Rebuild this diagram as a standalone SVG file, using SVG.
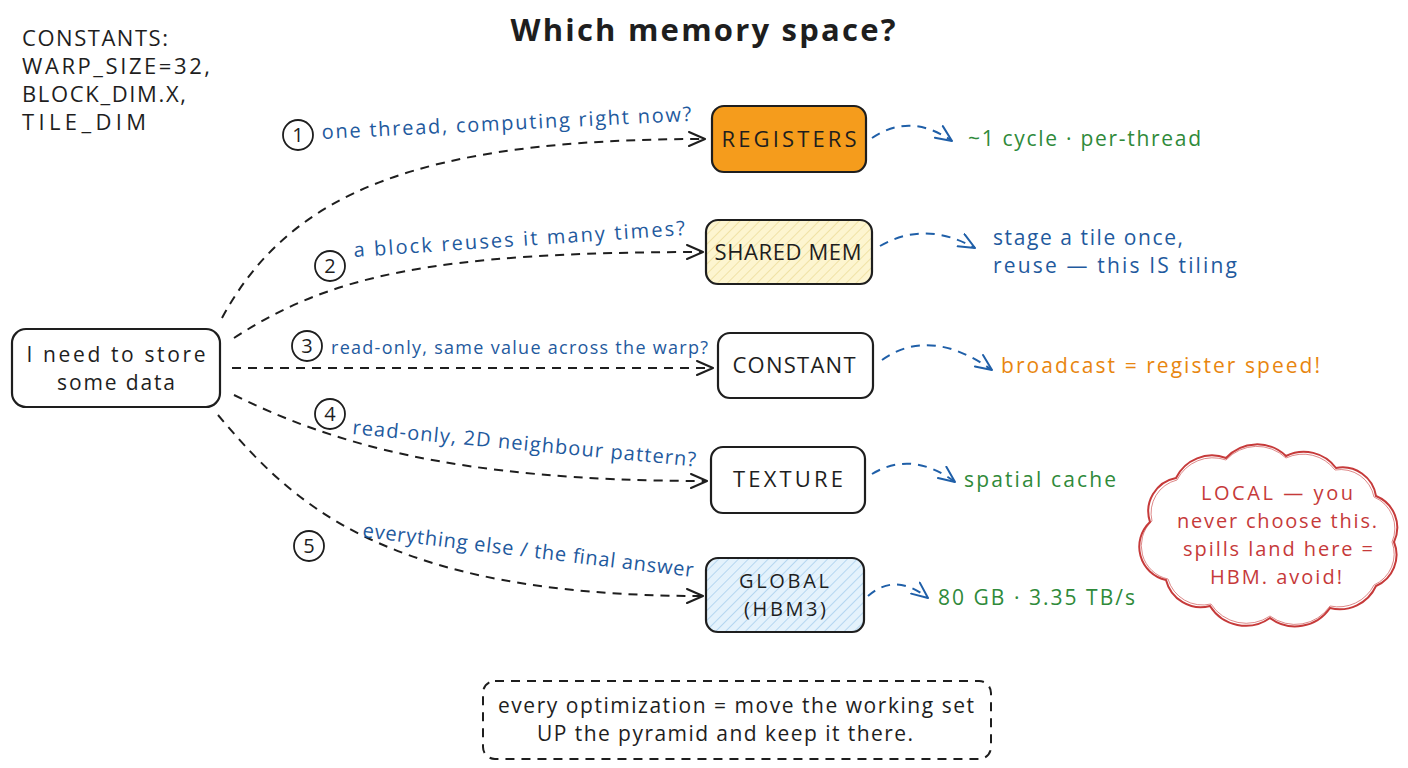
<svg xmlns="http://www.w3.org/2000/svg" width="1408" height="768" viewBox="0 0 1408 768">
<style>
text{font-family:"Open Sans","Liberation Sans",sans-serif;}
.t{font-size:21px;fill:#1e1e1e;}
.u{font-size:22px;fill:#1e1e1e;}
.node{stroke:#1e1e1e;stroke-width:2.2;}
.lbl{font-size:20px;fill:#1f5a9e;}
.num{font-size:20px;fill:#1e1e1e;text-anchor:middle;}
.circ{fill:none;stroke:#1e1e1e;stroke-width:1.8;}
.conn{fill:none;stroke:#1e1e1e;stroke-width:2;stroke-dasharray:9 7;}
.side{fill:none;stroke:#1f5fa8;stroke-width:2;stroke-dasharray:9 7;}
.green{font-size:21px;fill:#2f8a3a;}
.mid{text-anchor:middle;}
</style>
<defs>
<marker id="ah" markerUnits="userSpaceOnUse" markerWidth="22" markerHeight="18" refX="17" refY="8" orient="auto">
<path d="M1,1 L17,8 L1,15" fill="none" stroke="#1e1e1e" stroke-width="2" stroke-linecap="round" stroke-linejoin="round"/>
</marker>
<marker id="ahb" markerUnits="userSpaceOnUse" markerWidth="22" markerHeight="18" refX="17" refY="8" orient="auto">
<path d="M1,1 L17,8 L1,15" fill="none" stroke="#1f5fa8" stroke-width="2" stroke-linecap="round" stroke-linejoin="round"/>
</marker>
<pattern id="hy" patternUnits="userSpaceOnUse" width="7" height="7" patternTransform="rotate(45)">
<rect width="7" height="7" fill="#fdf5d0"/>
<line x1="0" y1="0" x2="0" y2="7" stroke="#e9d98f" stroke-width="1.3"/>
</pattern>
<pattern id="hb" patternUnits="userSpaceOnUse" width="7" height="7" patternTransform="rotate(45)">
<rect width="7" height="7" fill="#e4f2fc"/>
<line x1="0" y1="0" x2="0" y2="7" stroke="#9cc8ea" stroke-width="1.3"/>
</pattern>
</defs>
<rect width="1408" height="768" fill="#ffffff"/>

<text x="703" y="41" class="mid" style="font-size:31px;font-weight:bold;fill:#1e1e1e" textLength="385">Which memory space?</text>

<g id="constants">
<text x="22" y="46" class="u" textLength="146">CONSTANTS:</text>
<text x="22" y="74" class="u" textLength="188">WARP_SIZE=32,</text>
<text x="22" y="102" class="u" textLength="164">BLOCK_DIM.X,</text>
<text x="22" y="130" class="u" textLength="124">TILE_DIM</text>
</g>

<g id="connectors">
<path class="conn" d="M222,318 C290,192 420,139 705,139" marker-end="url(#ah)"/>
<path class="conn" d="M234,338 C330,276 430,252 703,252" marker-end="url(#ah)"/>
<path class="conn" d="M232,368 L713,368" marker-end="url(#ah)"/>
<path class="conn" d="M234,395 C330,442 450,481 707,481" marker-end="url(#ah)"/>
<path class="conn" d="M218,415 C290,500 380,596 703,596" marker-end="url(#ah)"/>
<path class="side" d="M872,138 Q910,112 952,141" marker-end="url(#ahb)"/>
<path class="side" d="M880,246 Q925,220 975,248" marker-end="url(#ahb)"/>
<path class="side" d="M882,360 Q930,326 992,370" marker-end="url(#ahb)"/>
<path class="side" d="M872,474 Q912,450 955,482" marker-end="url(#ahb)"/>
<path class="side" d="M868,596 Q895,572 928,598" marker-end="url(#ahb)"/>
</g>

<g id="start">
<rect class="node" x="12" y="329" width="208" height="78" rx="14" fill="#ffffff"/>
<text x="116" y="362" class="t mid" textLength="179">I need to store</text>
<text x="116" y="390" class="t mid" textLength="118">some data</text>
</g>

<g id="registers">
<rect class="node" x="712" y="106" width="154" height="66" rx="12" fill="#f59c1c"/>
<text x="789" y="147" class="u mid" textLength="135">REGISTERS</text>
</g>
<g id="shared">
<rect class="node" x="706" y="220" width="166" height="64" rx="12" fill="url(#hy)"/>
<text x="788" y="260" class="u mid" textLength="147">SHARED MEM</text>
</g>
<g id="constant">
<rect class="node" x="718" y="333" width="155" height="65" rx="12" fill="#ffffff"/>
<text x="794" y="373" class="u mid" textLength="123">CONSTANT</text>
</g>
<g id="texture">
<rect class="node" x="711" y="447" width="154" height="66" rx="12" fill="#ffffff"/>
<text x="788" y="487" class="u mid" textLength="110">TEXTURE</text>
</g>
<g id="global">
<rect class="node" x="706" y="558" width="158" height="74" rx="12" fill="url(#hb)"/>
<text x="784" y="588" class="mid" style="font-size:20px;fill:#1e1e1e" textLength="90">GLOBAL</text>
<text x="785" y="616" class="mid" style="font-size:20px;fill:#1e1e1e" textLength="82">(HBM3)</text>
</g>

<g id="labels">
<circle class="circ" cx="298" cy="135" r="15"/><text x="298" y="142" class="num">1</text>
<text class="lbl" x="322" y="139" transform="rotate(-2.8 322 139)" textLength="370">one thread, computing right now?</text>
<circle class="circ" cx="330" cy="266" r="15"/><text x="330" y="273" class="num">2</text>
<text class="lbl" x="354" y="257" transform="rotate(-3.8 354 257)" textLength="332">a block reuses it many times?</text>
<circle class="circ" cx="307" cy="346" r="15"/><text x="307" y="353" class="num">3</text>
<text class="lbl" x="331" y="354" style="font-size:18px" textLength="377">read-only, same value across the warp?</text>
<circle class="circ" cx="330" cy="414" r="15"/><text x="330" y="421" class="num">4</text>
<text class="lbl" x="352" y="434" transform="rotate(5.4 352 434)" textLength="345">read-only, 2D neighbour pattern?</text>
<circle class="circ" cx="309" cy="546" r="15"/><text x="309" y="553" class="num">5</text>
<text class="lbl" x="362" y="537" transform="rotate(6.9 362 537)" textLength="333">everything else / the final answer</text>
</g>

<g id="notes">
<text x="968" y="146" class="green" textLength="233">~1 cycle · per-thread</text>
<text x="993" y="245" class="lbl" style="font-size:21px" textLength="190">stage a tile once,</text>
<text x="993" y="273" class="lbl" style="font-size:21px" textLength="244">reuse — this IS tiling</text>
<text x="1001" y="373" style="font-size:21px;fill:#e8860f" textLength="319">broadcast = register speed!</text>
<text x="964" y="487" class="green" textLength="152">spatial cache</text>
<text x="938" y="605" class="green" textLength="197">80 GB · 3.35 TB/s</text>
</g>

<g id="local-cloud">
<path d="M1150,522 A34,34 0 0 1 1176,478 A40,40 0 0 1 1226,458 A42,42 0 0 1 1286,456 A40,40 0 0 1 1336,468 A34,34 0 0 1 1376,496 A34,34 0 0 1 1394,542 A34,34 0 0 1 1376,586 A40,40 0 0 1 1330,608 A42,42 0 0 1 1270,618 A42,42 0 0 1 1210,606 A36,36 0 0 1 1166,580 A34,34 0 0 1 1150,522 Z" fill="#ffffff" stroke="#c63a3a" stroke-width="2"/>
<path d="M1152,521 A34,34 0 0 1 1177,480 A40,40 0 0 1 1226,460 A42,42 0 0 1 1286,458 A40,40 0 0 1 1335,470 A34,34 0 0 1 1374,497 A34,34 0 0 1 1392,542 A34,34 0 0 1 1374,585 A40,40 0 0 1 1330,606 A42,42 0 0 1 1270,616 A42,42 0 0 1 1211,604 A36,36 0 0 1 1168,579 A34,34 0 0 1 1152,521 Z" fill="none" stroke="#c63a3a" stroke-width="1" opacity="0.6"/>
<text x="1277" y="500" class="mid" style="font-size:20px;fill:#c63a3a" textLength="152">LOCAL — you</text>
<text x="1277" y="528" class="mid" style="font-size:20px;fill:#c63a3a" textLength="200">never choose this.</text>
<text x="1278" y="556" class="mid" style="font-size:20px;fill:#c63a3a" textLength="190">spills land here =</text>
<text x="1276" y="584" class="mid" style="font-size:20px;fill:#c63a3a" textLength="132">HBM. avoid!</text>
</g>

<g id="summary">
<rect x="483" y="681" width="508" height="78" rx="12" fill="#ffffff" stroke="#1e1e1e" stroke-width="2" stroke-dasharray="9 7"/>
<text x="736" y="713" class="t mid" textLength="476">every optimization = move the working set</text>
<text x="725" y="741" class="t mid" textLength="376">UP the pyramid and keep it there.</text>
</g>
</svg>
